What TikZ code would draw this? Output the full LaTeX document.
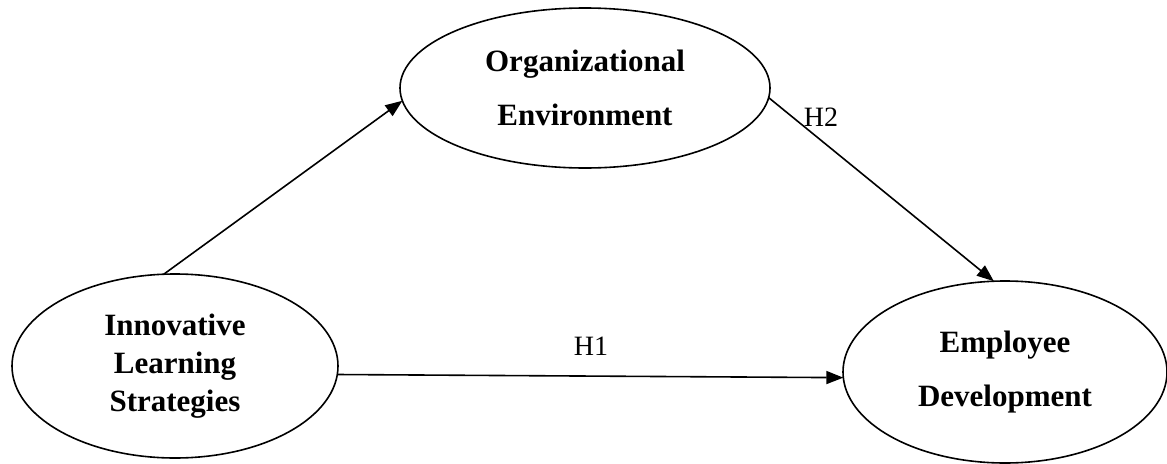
\documentclass[tikz,border=0pt]{standalone}
\usepackage{fontspec}
\setmainfont{Liberation Serif}
\usepackage{tikz}
\usetikzlibrary{arrows.meta,shapes.geometric}

\begin{document}
\begin{tikzpicture}[line join=bevel,line width=1.6bp,
  construct/.style={ellipse,draw=black,inner sep=0bp,outer sep=0bp,align=center,
    font=\bfseries\fontsize{31bp}{54bp}\selectfont},
  link/.style={-{Triangle[length=17bp,width=13bp]}},
  hyp/.style={anchor=base,inner sep=0bp,font=\fontsize{28bp}{34bp}\selectfont}]
%%
\useasboundingbox (0bp,0bp) rectangle (1167bp,-464bp);
% Node: ils
\node[construct,minimum width=326bp,minimum height=184bp,
  font=\bfseries\fontsize{31bp}{38bp}\selectfont] (ils) at (175bp,-366bp) {Innovative\\Learning\\Strategies};
% Node: orgenv
\node[construct,minimum width=370bp,minimum height=160bp] (orgenv) at (585bp,-88bp) {Organizational\\Environment};
% Node: empdev
\node[construct,minimum width=324bp,minimum height=182bp] (empdev) at (1005bp,-372bp) {Employee\\Development};
% Edge: ils -> orgenv
\draw[link] (ils.97) -- (orgenv.184);
% Edge: orgenv -> empdev (H2)
\draw[link] (orgenv.-3) -- (empdev.97);
% Edge: ils -> empdev (H1)
\draw[link] (ils.-3) -- (empdev.182);
% Labels
\node[hyp] (h1) at (591bp,-355bp) {H1};
\node[hyp] (h2) at (821bp,-126bp) {H2};
%
\end{tikzpicture}
\end{document}
